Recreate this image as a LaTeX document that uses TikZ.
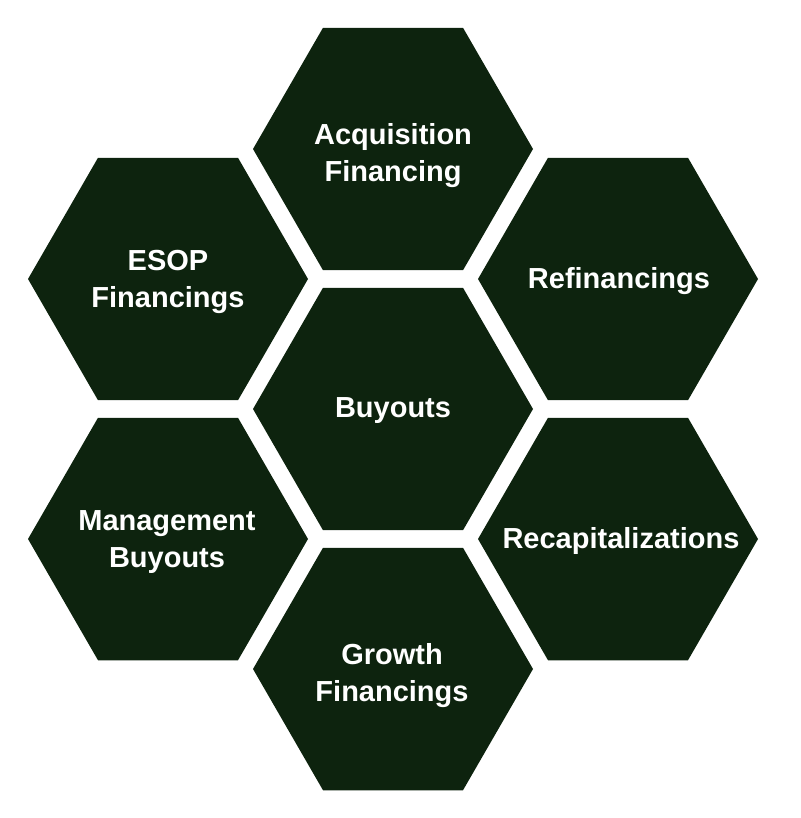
\documentclass[tikz,border=0pt]{standalone}
\usepackage{fontspec}
\setmainfont{Liberation Sans}
\definecolor{hexgreen}{RGB}{13,35,14}
\tikzset{
  hexfill/.style={fill=hexgreen, draw=none},
  hexlabel/.style={text=white, align=center, inner sep=0pt,
    font=\fontsize{29}{37}\selectfont\bfseries}
}
\newcommand{\hexat}[1]{\fill[hexfill] (#1) +(0:140) -- +(60:140) -- +(120:140) -- +(180:140) -- +(240:140) -- +(300:140) -- cycle;}
\begin{document}
\begin{tikzpicture}[x=1pt,y=-1pt]
\useasboundingbox (0,0) rectangle (800,818);
\coordinate (cC) at (393,409);
\coordinate (cT) at (393,149);
\coordinate (cTR) at (618,279);
\coordinate (cTL) at (168,279);
\coordinate (cBL) at (168,539);
\coordinate (cBR) at (618,539);
\coordinate (cB) at (393,669);
\hexat{cC}\hexat{cT}\hexat{cTR}\hexat{cTL}\hexat{cBL}\hexat{cBR}\hexat{cB}
\node[hexlabel] (center) at (393,411) {Buyouts};
\node[hexlabel] (top) at (393,156) {Acquisition\\Financing};
\node[hexlabel] (topright) at (619,281) {Refinancings};
\node[hexlabel] (topleft) at (168,282) {ESOP\\Financings};
\node[hexlabel] (botleft) at (167,542) {Management\\Buyouts};
\node[hexlabel] (botright) at (621,541) {Recapitalizations};
\node[hexlabel] (bottom) at (392,676) {Growth\\Financings};
\end{tikzpicture}
\end{document}
